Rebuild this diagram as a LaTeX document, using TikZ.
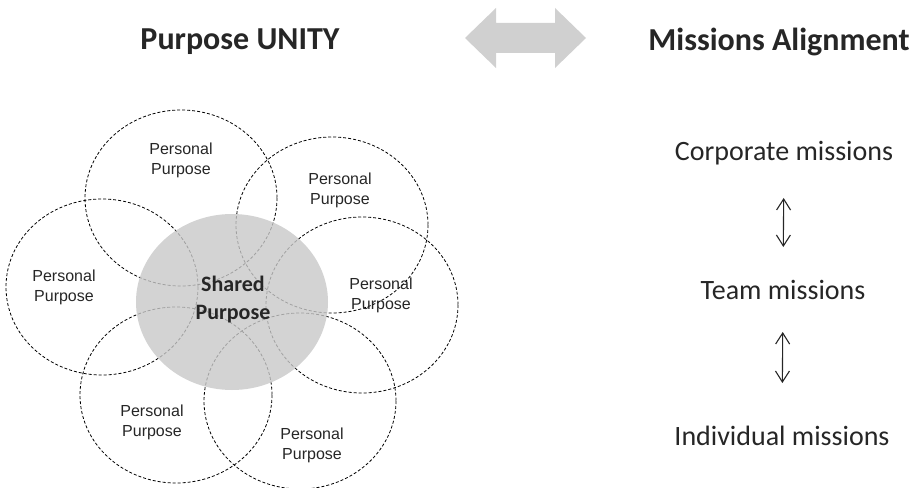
\documentclass[tikz,border=0pt]{standalone}
\usepackage{fontspec}
\setmainfont{Carlito}
\newfontfamily\arialfont{Liberation Sans}
\usepackage{tikz}
\usetikzlibrary{arrows.meta}
\definecolor{linkgray}{RGB}{208,208,208}
\definecolor{sharedgray}{RGB}{200,200,200}
\tikzset{
	pcircle/.style={draw=black, dashed, dash pattern=on 3pt off 2pt, line width=0.8pt},
	ptext/.style={align=center, text=black!85, font=\arialfont\fontsize{16}{20}\selectfont},
	stext/.style={align=center, text=black!85, font=\bfseries\fontsize{22}{28}\selectfont},
	title/.style={text=black!85, font=\bfseries\fontsize{32}{38}\selectfont},
	mtext/.style={text=black!85, font=\fontsize{28}{34}\selectfont},
	sync/.style={{Straight Barb[length=11pt,width=14pt]}-{Straight Barb[length=11pt,width=14pt]}, line width=1.1pt, black!85}
}

\begin{document}
\begin{tikzpicture}[x=1pt, y=-1pt]
			%%%%% START %%%%%
			\useasboundingbox (0, 0) rectangle (920, 487);
			
			\node[title] (unity) at (240, 42) {Purpose UNITY};
			\node[title] (alignment) at (779, 42) {Missions Alignment};
			\fill[linkgray] (465, 38) -- (496, 8) -- (496, 23) -- (555, 23) -- (555, 8) -- (586, 38) -- (555, 68) -- (555, 53) -- (496, 53) -- (496, 68) -- cycle;
			
			% personal purposes
			\draw[pcircle] (181, 198) ellipse (96 and 88);
			\draw[pcircle] (332, 225) ellipse (96 and 88);
			\draw[pcircle] (102, 287) ellipse (96 and 88);
			\draw[pcircle] (362, 305) ellipse (96 and 88);
			\draw[pcircle] (176, 395) ellipse (96 and 88);
			\draw[pcircle] (300, 401) ellipse (96 and 88);
			
			% shared purpose
			\fill[sharedgray, fill opacity=0.8] (232, 302) ellipse (96 and 88);
			\node[stext] (shared) at (233, 300) {Shared\\Purpose};
			
			\node[ptext] (p1) at (181, 160) {Personal\\Purpose};
			\node[ptext] (p2) at (340, 190) {Personal\\Purpose};
			\node[ptext] (p3) at (64, 287) {Personal\\Purpose};
			\node[ptext] (p4) at (381, 295) {Personal\\Purpose};
			\node[ptext] (p5) at (152, 422) {Personal\\Purpose};
			\node[ptext] (p6) at (312, 445) {Personal\\Purpose};
			
			% missions
			\node[mtext] (corp) at (784, 153) {Corporate missions};
			\node[mtext] (team) at (783, 290) {Team missions};
			\node[mtext] (indiv) at (782, 436) {Individual missions};
			\draw[sync, shorten <=45pt, shorten >=43pt] (corp.center) -- (team.center);
			\draw[sync, shorten <=42pt, shorten >=53pt] (team.center) -- (indiv.center);
			
			%%%%% END %%%%%
\end{tikzpicture}
\end{document}
